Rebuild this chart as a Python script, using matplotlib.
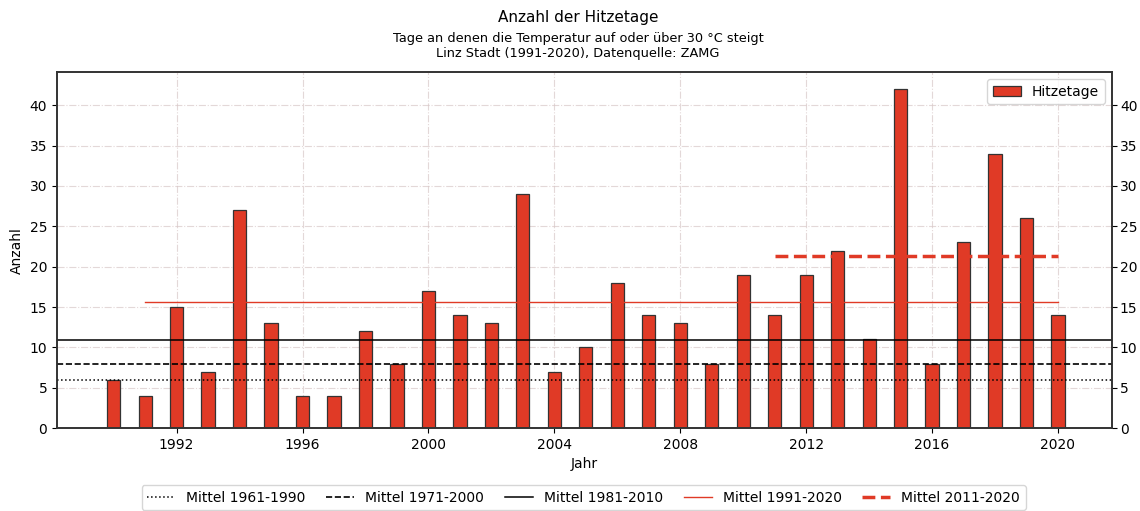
import matplotlib
matplotlib.use("Agg")
import matplotlib.pyplot as plt
import numpy as np

years = list(range(1990, 2021))
hitzetage = [6, 4, 15, 7, 27, 13, 4, 4, 12, 8, 17, 14, 13, 29, 7, 10, 18, 14, 13, 8,
             19, 14, 19, 22, 11, 42, 8, 23, 34, 26, 14]
mittel_1961_1990 = 6.0
mittel_1971_2000 = 8.0
mittel_1981_2010 = 10.95
period_1991_2020 = (1991, 2020)
period_2011_2020 = (2011, 2020)

yrs = np.array(years)
vals = np.array(hitzetage, dtype=float)
m9120 = vals[(yrs >= 1991) & (yrs <= 2020)].mean()
m1120 = vals[(yrs >= 2011) & (yrs <= 2020)].mean()

fig = plt.figure(figsize=(11.4, 5.11), dpi=100)
ax = fig.add_axes([0.05, 0.162, 0.925, 0.697])

ax.grid(True, color="#d8c8c8", linestyle="-.", linewidth=0.8, alpha=0.7)
ax.set_axisbelow(True)
bars = ax.bar(yrs, vals, width=0.42, color="#e03a26", edgecolor="#333333",
              linewidth=0.9, label="Hitzetage", zorder=2)

l1 = ax.axhline(mittel_1961_1990, color="black", linestyle=":", linewidth=1.1, zorder=3)
l2 = ax.axhline(mittel_1971_2000, color="black", linestyle="--", linewidth=1.2, zorder=3)
l3 = ax.axhline(mittel_1981_2010, color="black", linestyle="-", linewidth=1.1, zorder=3)
l4, = ax.plot(period_1991_2020, [m9120, m9120], color="#e03a26", linestyle="-", linewidth=1.0, zorder=3)
l5, = ax.plot(period_2011_2020, [m1120, m1120], color="#e03a26", linestyle="--", linewidth=2.5, zorder=3)

ax.set_xlim(1988.2, 2021.7)
ax.set_ylim(0, 44.1)
ax.set_xticks(range(1992, 2021, 4))
ax.set_yticks(range(0, 41, 5))
ax.tick_params(labelsize=10)
ax.set_xlabel("Jahr", fontsize=10)
ax.set_ylabel("Anzahl", fontsize=10)

ax2 = ax.twinx()
ax2.set_ylim(ax.get_ylim())
ax2.set_yticks(range(0, 41, 5))
ax2.tick_params(labelsize=10, pad=2.5)

for a in (ax, ax2):
    for s in a.spines.values():
        s.set_color("#333333")
        s.set_linewidth(1.2)

ax2.legend([bars], ["Hitzetage"], loc="upper right", fontsize=10)

fig.legend([l1, l2, l3, l4, l5],
           ["Mittel 1961-1990", "Mittel 1971-2000", "Mittel 1981-2010",
            "Mittel 1991-2020", "Mittel 2011-2020"],
           loc="lower center", bbox_to_anchor=(0.512, -0.012), ncol=5, fontsize=10,
           handlelength=2.0, columnspacing=1.5)

fig.text(0.507, 0.965, "Anzahl der Hitzetage", ha="center", va="center", fontsize=11)
fig.text(0.507, 0.925, "Tage an denen die Temperatur auf oder über 30 °C steigt",
         ha="center", va="center", fontsize=9.3)
fig.text(0.507, 0.895, "Linz Stadt (1991-2020), Datenquelle: ZAMG",
         ha="center", va="center", fontsize=9.3)

fig.savefig("out.png", dpi=100)
